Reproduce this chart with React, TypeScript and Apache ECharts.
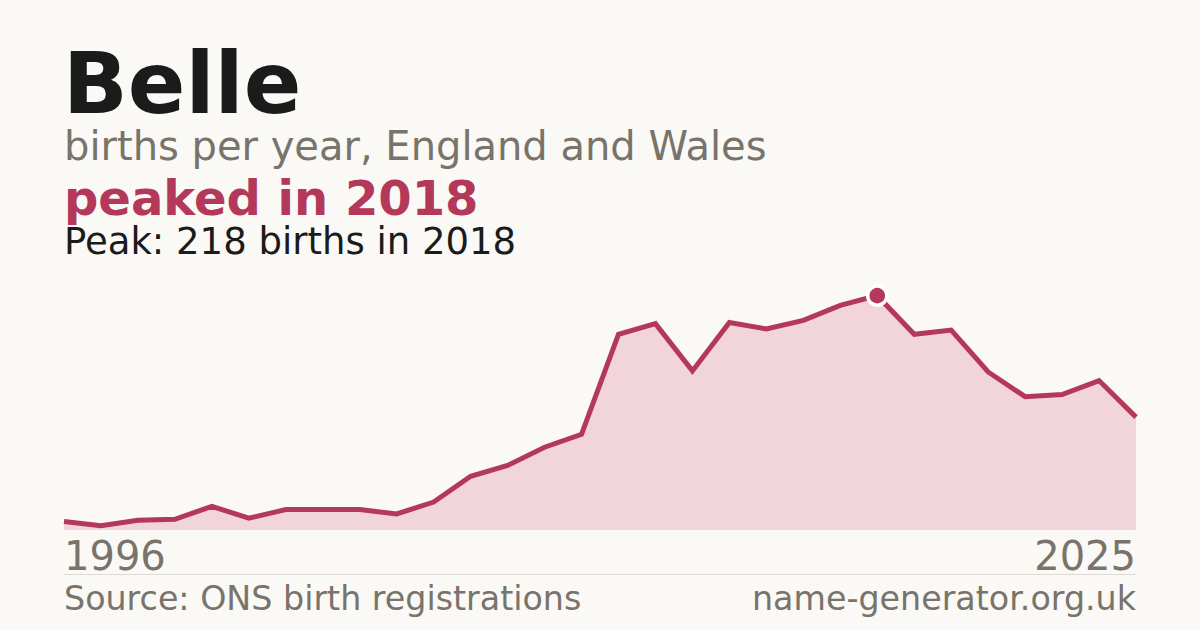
import { useEffect, useRef } from 'react';
import * as echarts from 'echarts';

const YEARS = [
  '1996', '1997', '1998', '1999', '2000', '2001', '2002', '2003', '2004', '2005',
  '2006', '2007', '2008', '2009', '2010', '2011', '2012', '2013', '2014', '2015',
  '2016', '2017', '2018', '2019', '2020', '2021', '2022', '2023', '2024', '2025',
];
const BIRTHS = [
  8, 4, 9, 10, 22, 11, 19, 19, 19, 15,
  26, 50, 60, 77, 89, 182, 192, 148, 193, 187,
  195, 209, 218, 182, 186, 147, 124, 126, 139, 105,
];
const NAME = 'Belle';
const SUBTITLE = 'births per year, England and Wales';
const HEADLINE = 'peaked in 2018';
const SOURCE = 'Source: ONS birth registrations';
const SITE = 'name-generator.org.uk';

const BG = '#faf9f5';
const CRIMSON = '#b3385a';
const FILL = '#f1d5db';
const GREY = '#78736b';
const INK = '#1b1b1b';
const FONT = '"DejaVu Sans", sans-serif';

export default function App() {
  const chartRef = useRef<HTMLDivElement>(null);

  useEffect(() => {
    if (!chartRef.current) return;
    document.body.style.margin = '0';
    document.body.style.background = BG;

    const peak = Math.max(...BIRTHS);
    const peakIdx = BIRTHS.indexOf(peak);
    const peakYear = YEARS[peakIdx];

    const chart = echarts.init(chartRef.current, null, { renderer: 'svg' });
    chart.setOption({
      animation: false,
      backgroundColor: BG,
      textStyle: { fontFamily: FONT },
      grid: { left: 64, right: 64, top: 272, bottom: 100 },
      xAxis: {
        type: 'category',
        data: YEARS,
        boundaryGap: false,
        axisLine: { show: false },
        axisTick: { show: false },
        splitLine: { show: false },
        axisLabel: {
          interval: (i: number) => i === 0 || i === YEARS.length - 1,
          alignMinLabel: 'left',
          alignMaxLabel: 'right',
          color: GREY,
          fontSize: 40,
          fontFamily: FONT,
          margin: 6,
        },
      },
      yAxis: {
        type: 'value',
        min: 0,
        max: 240,
        show: false,
        splitLine: { show: false },
      },
      graphic: [
        {
          type: 'text', x: 63, y: 83, silent: true,
          style: { text: NAME, fill: INK, font: `bold 85px ${FONT}`, verticalAlign: 'middle' },
        },
        {
          type: 'text', x: 64, y: 146, silent: true,
          style: { text: SUBTITLE, fill: GREY, font: `40px ${FONT}`, verticalAlign: 'middle' },
        },
        {
          type: 'text', x: 64, y: 197.5, silent: true,
          style: { text: HEADLINE, fill: CRIMSON, font: `bold 48px ${FONT}`, verticalAlign: 'middle' },
        },
        {
          type: 'text', x: 64, y: 241, silent: true,
          style: {
            text: `Peak: ${peak} births in ${peakYear}`,
            fill: INK, font: `37px ${FONT}`, verticalAlign: 'middle',
          },
        },
        {
          type: 'line', silent: true,
          shape: { x1: 64, y1: 574.5, x2: 1136, y2: 574.5 },
          style: { stroke: '#dcdad3', lineWidth: 1 },
        },
        {
          type: 'text', x: 64, y: 598.5, silent: true,
          style: { text: SOURCE, fill: GREY, font: `33.3px ${FONT}`, verticalAlign: 'middle' },
        },
        {
          type: 'text', x: 1136, y: 598.5, silent: true,
          style: { text: SITE, fill: GREY, font: `33.3px ${FONT}`, align: 'right', verticalAlign: 'middle' },
        },
      ],
      series: [
        {
          type: 'line',
          data: BIRTHS,
          symbol: 'none',
          lineStyle: { color: CRIMSON, width: 5, join: 'miter' },
          areaStyle: { color: FILL, opacity: 1 },
          z: 2,
        },
        {
          type: 'scatter',
          data: BIRTHS.map((v, i) => (i === peakIdx ? v : '-')),
          symbol: 'circle',
          symbolSize: 19,
          itemStyle: { color: CRIMSON, borderColor: '#ffffff', borderWidth: 3.5, opacity: 1 },
          z: 3,
        },
      ],
    });

    return () => chart.dispose();
  }, []);

  return <div ref={chartRef} style={{ width: 1200, height: 630 }} />;
}
